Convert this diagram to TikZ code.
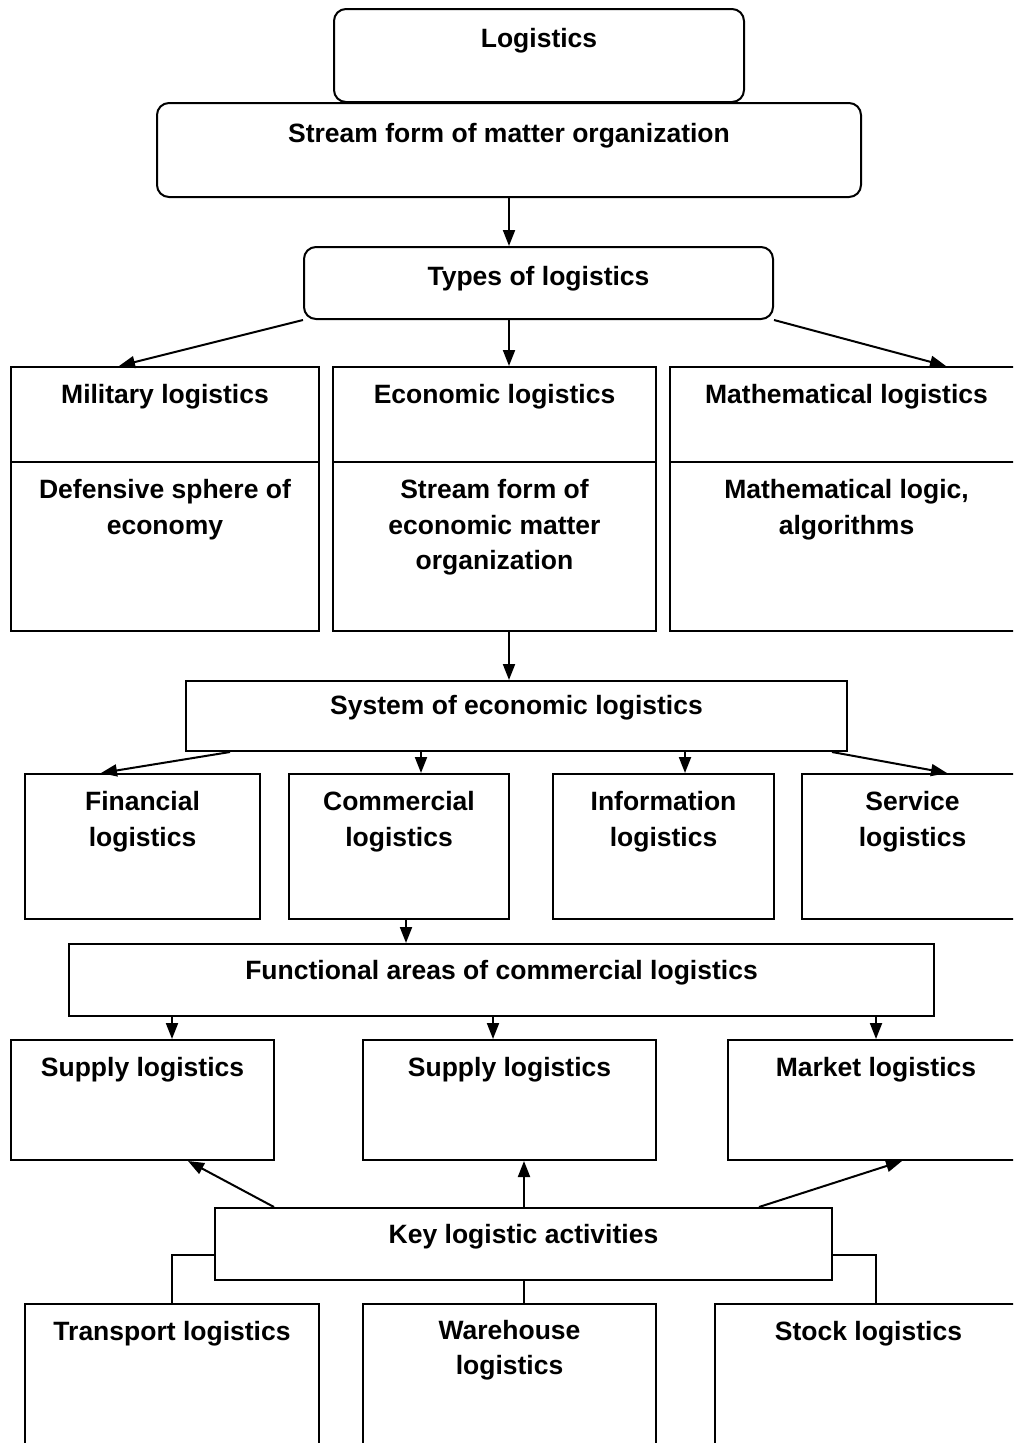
\documentclass[tikz,border=0pt]{standalone}
\usepackage{fontspec}
\setmainfont{Liberation Sans}
\usetikzlibrary{arrows.meta,positioning}
\begin{document}
\begin{tikzpicture}[x=1pt,y=-1pt]
    \tikzstyle{box_style}=[rectangle, draw, line width=2pt, anchor=north west, inner sep=0pt]
    \tikzstyle{round_style}=[box_style, rounded corners=12pt]
    \tikzstyle{text_style}=[anchor=north, inner sep=0pt, align=center, font=\fontsize{26.5pt}{35.5pt}\selectfont\bfseries]
    \tikzstyle{arrow_style}=[line width=2pt, -{Triangle[length=16pt,width=12pt]}]
    \tikzstyle{line_style}=[line width=2pt]

    \useasboundingbox (0,0) rectangle (1013,1443);
    \clip (0,0) rectangle (1013,1443);

    % logistics
    \node at (333, 8) [round_style, minimum width=410pt, minimum height=93pt] (logistics) {};
    \node at (156, 102) [round_style, minimum width=704pt, minimum height=94pt] (stream) {};
    \node[text_style, below=20.5pt of logistics.north] (logistics_text) {Logistics};
    \node[text_style, below=21.5pt of stream.north] (stream_text) {Stream form of matter organization};

    % types of logistics
    \node at (303, 246) [round_style, minimum width=469pt, minimum height=72pt] (types) {};
    \node[text_style, below=20.5pt of types.north] (types_text) {Types of logistics};

    \node at (10, 366) [box_style, minimum width=308pt, minimum height=264pt] (type_mil) {};
    \node at (332, 366) [box_style, minimum width=323pt, minimum height=264pt] (type_eco) {};
    \node at (669, 366) [box_style, minimum width=353pt, minimum height=264pt] (type_math) {};
    \foreach \b in {type_mil,type_eco,type_math}
      \draw[line width=2pt] ([yshift=-96pt]\b.north west) -- ([yshift=-96pt]\b.north east);
    \node[text_style, below=18.5pt of type_mil.north] (type_mil_text) {Military logistics};
    \node[text_style, below=18.5pt of type_eco.north] (type_eco_text) {Economic logistics};
    \node[text_style, below=18.5pt of type_math.north] (type_math_text) {Mathematical logistics};
    \node[text_style, below=113.5pt of type_mil.north] (type_mil_desc) {Defensive sphere of\\economy};
    \node[text_style, below=113.5pt of type_eco.north] (type_eco_desc) {Stream form of\\economic matter\\organization};
    \node[text_style, below=113.5pt of type_math.north] (type_math_desc) {Mathematical logic,\\algorithms};

    % system of economic logistics
    \node at (185, 680) [box_style, minimum width=661pt, minimum height=70pt] (system) {};
    \node[text_style, below=15.5pt of system.north] (system_text) {System of economic logistics};

    \node at (24, 773) [box_style, minimum width=235pt, minimum height=145pt] (sys_fin) {};
    \node at (288, 773) [box_style, minimum width=220pt, minimum height=145pt] (sys_com) {};
    \node at (552, 773) [box_style, minimum width=221pt, minimum height=145pt] (sys_inf) {};
    \node at (801, 773) [box_style, minimum width=221pt, minimum height=145pt] (sys_ser) {};
    \node[text_style, below=18.5pt of sys_fin.north] (sys_fin_text) {Financial\\logistics};
    \node[text_style, below=18.5pt of sys_com.north] (sys_com_text) {Commercial\\logistics};
    \node[text_style, below=18.5pt of sys_inf.north] (sys_inf_text) {Information\\logistics};
    \node[text_style, below=18.5pt of sys_ser.north] (sys_ser_text) {Service\\logistics};

    % functional areas
    \node at (68, 943) [box_style, minimum width=865pt, minimum height=72pt] (functional) {};
    \node[text_style, below=17.5pt of functional.north] (functional_text) {Functional areas of commercial logistics};

    \node at (10, 1039) [box_style, minimum width=263pt, minimum height=120pt] (area_sup1) {};
    \node at (362, 1039) [box_style, minimum width=293pt, minimum height=120pt] (area_sup2) {};
    \node at (727, 1039) [box_style, minimum width=296pt, minimum height=120pt] (area_mkt) {};
    \node[text_style, below=18.5pt of area_sup1.north] (area_sup1_text) {Supply logistics};
    \node[text_style, below=18.5pt of area_sup2.north] (area_sup2_text) {Supply logistics};
    \node[text_style, below=18.5pt of area_mkt.north] (area_mkt_text) {Market logistics};

    % key logistic activities
    \node at (214, 1207) [box_style, minimum width=617pt, minimum height=72pt] (key) {};
    \node[text_style, below=17.5pt of key.north] (key_text) {Key logistic activities};

    \node at (24, 1303) [box_style, minimum width=294pt, minimum height=160pt] (act_trans) {};
    \node at (362, 1303) [box_style, minimum width=293pt, minimum height=160pt] (act_ware) {};
    \node at (714, 1303) [box_style, minimum width=307pt, minimum height=160pt] (act_stock) {};
    \node[text_style, below=18.5pt of act_trans.north] (act_trans_text) {Transport logistics};
    \node[text_style, below=17pt of act_ware.north] (act_ware_text) {Warehouse\\logistics};
    \node[text_style, below=18.5pt of act_stock.north] (act_stock_text) {Stock logistics};

    % connect: stream -> types -> type boxes
    \draw[arrow_style] (stream.south) -- (stream.south |- types.north);
    \draw[arrow_style] (types.south west) -- ([xshift=-46pt]type_mil.north);
    \draw[arrow_style] ([xshift=-29.5pt]types.south) -- ([xshift=14.5pt]type_eco.north);
    \draw[arrow_style] (types.south east) -- ([xshift=99.5pt]type_math.north);

    % connect: economic logistics -> system -> system boxes
    \draw[arrow_style] ([xshift=14.5pt]type_eco.south) -- ([xshift=14.5pt]type_eco.south |- system.north);
    \draw[arrow_style] ([xshift=45pt]system.south west) -- ([xshift=-41.5pt]sys_fin.north);
    \draw[arrow_style] ([xshift=22pt]sys_com.north |- system.south) -- ([xshift=22pt]sys_com.north);
    \draw[arrow_style] ([xshift=21.5pt]sys_inf.north |- system.south) -- ([xshift=21.5pt]sys_inf.north);
    \draw[arrow_style] ([xshift=-16pt]system.south east) -- ([xshift=34.5pt]sys_ser.north);

    % connect: commercial -> functional areas -> area boxes
    \draw[arrow_style] ([xshift=7pt]sys_com.south) -- ([xshift=7pt]sys_com.south |- functional.north);
    \draw[arrow_style] ([xshift=29.5pt]area_sup1.north |- functional.south) -- ([xshift=29.5pt]area_sup1.north);
    \draw[arrow_style] ([xshift=-16.5pt]area_sup2.north |- functional.south) -- ([xshift=-16.5pt]area_sup2.north);
    \draw[arrow_style] (area_mkt.north |- functional.south) -- (area_mkt.north);

    % connect: key activities -> area boxes
    \draw[arrow_style] ([xshift=60pt]key.north west) -- ([xshift=45.5pt]area_sup1.south);
    \draw[arrow_style] ([xshift=0.5pt]key.north) -- ([xshift=0.5pt]key.north |- area_sup2.south);
    \draw[arrow_style] ([xshift=-74pt]key.north east) -- ([xshift=26pt]area_mkt.south);

    % connect: key activities - activity boxes
    \draw[line_style] ([yshift=-48pt]key.north west) -| (act_trans.north);
    \draw[line_style] ([xshift=0.5pt]key.south) -- ([xshift=0.5pt]key.south |- act_ware.north);
    \draw[line_style] ([yshift=-48pt]key.north east) -| ([xshift=7.5pt]act_stock.north);
\end{tikzpicture}
\end{document}
